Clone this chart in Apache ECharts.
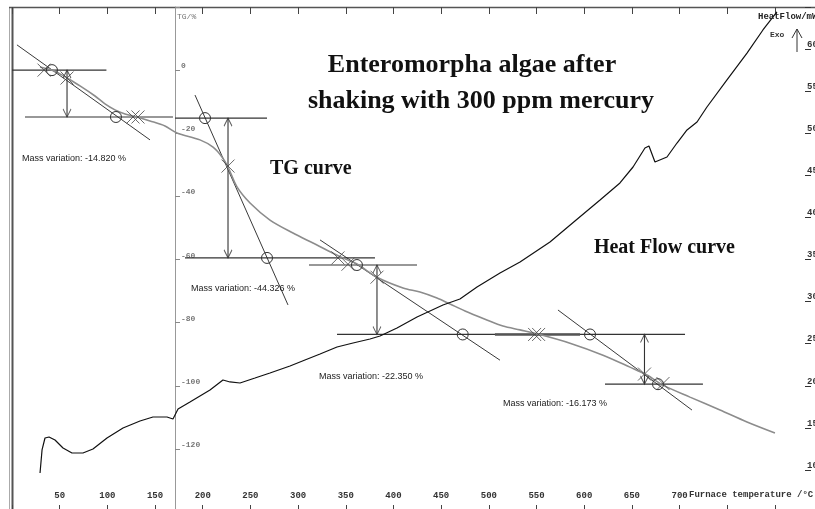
<!DOCTYPE html>
<html>
<head>
<meta charset="utf-8">
<script src="https://cdn.jsdelivr.net/npm/echarts@6/dist/echarts.min.js"></script>
<style>html,body{margin:0;padding:0;background:#fff}#c{width:815px;height:509px}</style>
</head>
<body>
<div id="c"></div>
<script>
// ---- data (temperature °C, TG %, heat flow mW) ----
const tgCurve = [[29.4,1.0],[41.9,0.0],[50.3,-1.2],[57.7,-2.5],[71.3,-5.0],[87.0,-8.2],[97.5,-10.7],[108.0,-12.6],[118.5,-13.9],[131.1,-14.85],[144.7,-16.1],[160.4,-17.7],[173.0,-19.9],[197.1,-22.1],[210.8,-24.4],[220.2,-27.5],[226.5,-30.7],[235.9,-37.0],[249.6,-42.1],[270.5,-47.5],[294.6,-51.6],[315.6,-54.8],[336.6,-58.0],[349.2,-59.8],[361.7,-61.4],[382.7,-65.6],[410.0,-69.0],[427.8,-70.3],[445.6,-72.2],[459.3,-74.1],[475.0,-76.3],[496.0,-78.9],[514.8,-81.1],[532.7,-82.3],[551.5,-83.6],[585.1,-86.5],[619.7,-90.3],[648.0,-94.1],[665.8,-96.6],[682.6,-99.8],[710.9,-103.6],[742.4,-107.7],[770.7,-111.5],[800.0,-115.0]];
const hfCurve = [[29.4,9.63],[31.5,12.37],[34.6,13.79],[38.8,13.91],[45.1,13.55],[53.5,12.60],[62.9,12.01],[74.4,12.01],[84.9,12.49],[99.6,13.79],[116.4,14.98],[134.2,15.81],[147.8,16.29],[157.3,16.29],[162.5,16.29],[168.8,16.05],[174.1,17.24],[186.6,18.07],[207.6,19.50],[221.2,20.68],[228.6,20.45],[239.1,20.33],[254.8,20.92],[270.5,21.52],[291.5,22.35],[307.2,23.06],[323.0,23.77],[340.8,24.60],[357.6,25.08],[375.4,25.55],[385.9,25.91],[403.7,26.86],[424.7,28.17],[451.9,29.59],[469.7,30.31],[487.6,31.73],[511.7,33.40],[532.7,34.70],[564.1,37.08],[590.3,39.57],[616.6,42.07],[637.5,44.09],[651.2,45.99],[663.7,48.25],[667.9,48.49],[674.2,46.58],[686.8,47.18],[697.3,48.84],[707.8,50.39],[718.3,51.34],[728.7,53.12],[749.7,56.33],[770.7,59.53],[787.4,62.27],[802.1,64.41]];
// horizontal step lines: [T start, T end, TG level]
const stepLines = [[0,99,0.0],[13.6,168.8,-14.85],[171,267.4,-15.2],[181.4,380.6,-59.5],[311.4,424.7,-61.75],[340.8,705.7,-83.75],[621.8,724.5,-99.5]];
const stepLinesBold = [[506.4,595.6,-83.75]];
// tangents: [T1, TG1, T2, TG2]
const tangents = [[5.2,8.0,144.7,-22.1],[191.9,-7.9,289.4,-74.4],[323.0,-53.8,511.7,-91.9],[572.5,-76.0,713.0,-107.7]];
const onsetCircles = [[41.9,0.0],[109.0,-14.85],[202.4,-15.2],[267.4,-59.5],[361.7,-61.75],[472.6,-83.75],[606.1,-83.75],[677.4,-99.5]];
const crossMarks = [[33.6,0.0],[57.7,-2.5],[126.9,-14.85],[132.1,-14.85],[226.5,-30.4],[341.8,-59.5],[352.3,-61.5],[382.7,-65.6],[548.0,-83.75],[552.2,-83.75],[663.2,-96.3],[682.6,-99.3]];
// double arrows: [T, TG top, TG bottom]
const arrows = [[57.7,0.0,-14.85],[226.5,-15.2,-59.5],[382.7,-61.75,-83.75],[663.2,-83.75,-99.5]];
const massVariation = ['-14.820','-44.326','-22.350','-16.173'];
const xShownLabels = [50,100,150,200,250,300,350,400,450,500,550,600,650,700];

const chart = echarts.init(document.getElementById('c'), null, {renderer:'canvas'});
const axisFont = {fontFamily:'Liberation Mono', fontWeight:'bold'};
const series = [];
series.push({type:'line', yAxisIndex:0, data:tgCurve, showSymbol:false, symbol:'none', smooth:0.3, lineStyle:{color:'#8c8c8c', width:1.6}, z:3});
series.push({type:'line', yAxisIndex:1, data:hfCurve, showSymbol:false, symbol:'none', lineStyle:{color:'#111', width:1.2}, z:4});
stepLines.forEach(s=>series.push({type:'line', yAxisIndex:0, data:[[s[0],s[2]],[s[1],s[2]]], symbol:'none', lineStyle:{color:'#333', width:1.2}, z:2}));
stepLinesBold.forEach(s=>series.push({type:'line', yAxisIndex:0, data:[[s[0],s[2]],[s[1],s[2]]], symbol:'none', lineStyle:{color:'#555', width:2.4}, z:2}));
tangents.forEach(t=>series.push({type:'line', yAxisIndex:0, data:[[t[0],t[1]],[t[2],t[3]]], symbol:'none', lineStyle:{color:'#222', width:0.9}, z:2}));
arrows.forEach(a=>series.push({type:'line', yAxisIndex:0, data:[[a[0],a[1]],[a[0],a[2]]], symbol:'none', lineStyle:{color:'#333', width:1.1}, z:2}));
series.push({type:'scatter', yAxisIndex:0, symbol:'path://M0,10L5,5L10,10M5,0L5,0', symbolSize:[8,16],
  data:arrows.flatMap(a=>[{value:[a[0],a[1]], symbolRotate:0},{value:[a[0],a[2]], symbolRotate:180}]),
  itemStyle:{color:'none', borderColor:'#333', borderWidth:1.1}, z:5});
series.push({type:'scatter', yAxisIndex:0, symbol:'circle', symbolSize:11, data:onsetCircles,
  itemStyle:{color:'rgba(0,0,0,0)', opacity:1, borderColor:'#333', borderWidth:1}, z:5});
series.push({type:'scatter', yAxisIndex:0, symbol:'path://M0,0L10,10M10,0L0,10', symbolSize:13, data:crossMarks,
  itemStyle:{color:'none', borderColor:'#444', borderWidth:1}, z:6});

const txt = (x,y,t,font,fill,align)=>({type:'text', x:x, y:y, silent:true, z:10,
  style:{text:t, font:font, fill:fill||'#222', textAlign:align||'left', textVerticalAlign:'middle'}});
const massPos = [[22,159],[191,289],[319,377],[503,404]];
const graphics = [
  {type:'line', shape:{x1:9.5,y1:7,x2:9.5,y2:509}, style:{stroke:'#aaa', lineWidth:1}},
  {type:'line', shape:{x1:12.5,y1:7,x2:12.5,y2:509}, style:{stroke:'#555', lineWidth:2}},
  {type:'line', shape:{x1:9,y1:7.5,x2:815,y2:7.5}, style:{stroke:'#555', lineWidth:1.5}},
  txt(472,65,'Enteromorpha algae after','bold 26px "Liberation Serif"','#111','center'),
  txt(481,101,'shaking with 300 ppm mercury','bold 26px "Liberation Serif"','#111','center'),
  txt(270,169,'TG curve','bold 20px "Liberation Serif"','#111'),
  txt(735,248,'Heat Flow curve','bold 20px "Liberation Serif"','#111','right'),
  txt(177,17,'TG/%','8px "Liberation Mono"','#777'),
  txt(758,17,'HeatFlow/mW','bold 9px "Liberation Mono"','#222'),
  txt(770,35,'Exo','bold 8px "Liberation Mono"','#333'),
  txt(689,495,'Furnace temperature /°C','bold 9px "Liberation Mono"','#333'),
  {type:'line', shape:{x1:797,y1:52,x2:797,y2:29}, style:{stroke:'#333', lineWidth:1}},
  {type:'polyline', shape:{points:[[792,38],[797,29],[802,38]]}, style:{stroke:'#333', lineWidth:1, fill:null}}
];
massVariation.forEach((m,i)=>graphics.push(txt(massPos[i][0],massPos[i][1],'Mass variation: '+m+' %','9px "Liberation Sans"','#222')));

chart.setOption({
  animation:false,
  backgroundColor:'#fff',
  grid:{left:12, right:0, top:7, bottom:-3, show:false, containLabel:false, outerBoundsMode:'none'},
  xAxis:[
    {type:'value', position:'bottom', min:0, max:842, interval:50,
     axisLine:{show:false, onZero:false}, splitLine:{show:false},
     axisTick:{inside:true, length:7, lineStyle:{color:'#444'}},
     axisLabel:{inside:true, margin:12, color:'#333', fontSize:9, showMaxLabel:false, ...axisFont,
       formatter:v=>xShownLabels.includes(v)?String(v):''}},
    {type:'value', position:'top', min:0, max:842, interval:50,
     axisLine:{show:false, onZero:false}, splitLine:{show:false},
     axisTick:{inside:true, length:7, lineStyle:{color:'#444'}},
     axisLabel:{show:false}}
  ],
  yAxis:[
    {type:'value', position:'left', offset:-163, min:-140, max:20, interval:20,
     axisLine:{show:true, onZero:false, lineStyle:{color:'#999', width:1}}, splitLine:{show:false},
     axisTick:{inside:true, length:5, lineStyle:{color:'#888'}},
     axisLabel:{inside:true, margin:6, color:'#777', fontSize:8, verticalAlign:'bottom', ...axisFont,
       formatter:v=>(v===20||v===-140)?'':String(v)}},
    {type:'value', position:'right', offset:-10, min:5, max:65, interval:5,
     axisLine:{show:false, onZero:false}, splitLine:{show:false},
     axisTick:{show:true, inside:false, length:6, lineStyle:{color:'#333'}},
     axisLabel:{margin:2, color:'#333', fontSize:9, verticalAlign:'bottom', ...axisFont,
       formatter:v=>(v===5||v===65)?'':String(v)}}
  ],
  graphic:graphics,
  series:series
});
</script>
</body>
</html>
